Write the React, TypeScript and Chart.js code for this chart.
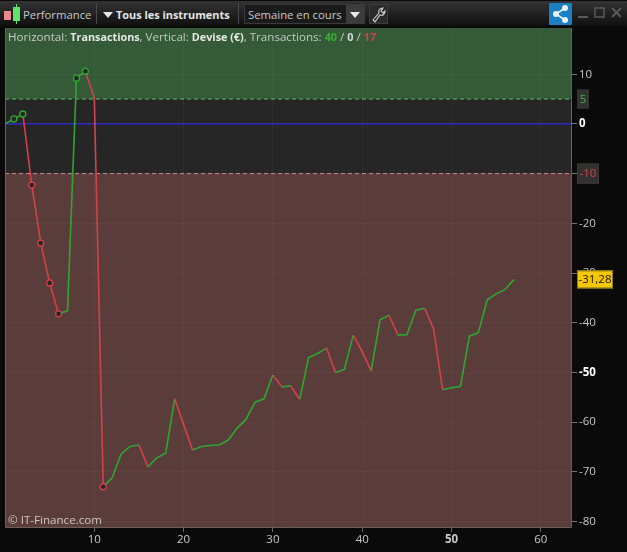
import React, { useEffect, useRef } from "react";
import { Chart, registerables } from "chart.js";

Chart.register(...registerables);

const trades = [
  0, 1, 2, 3, 4, 5, 6, 7, 8, 9, 10, 11, 12, 13, 14, 15, 16, 17, 18, 19, 20, 21, 22, 23, 24, 25, 26, 27, 28,
  29, 30, 31, 32, 33, 34, 35, 36, 37, 38, 39, 40, 41, 42, 43, 44, 45, 46, 47, 48, 49, 50, 51, 52, 53, 54, 55, 56, 57,
];
const equity = [
  0, 1, 2, -12.3, -24, -32, -38.2, -37.6, 9.2, 10.6, 5.2, -73, -71.2, -66.4, -64.9, -64.6, -69, -67.2, -66.2, -55.3,
  -60.5, -65.6, -64.9, -64.7, -64.6, -63.6, -61.2, -59.4, -56, -55.3, -50.5, -52.9, -52.7, -55.4, -47, -46.2, -45.1,
  -50, -49.4, -42.5, -45.8, -49.7, -39.4, -38.5, -42.5, -42.4, -37.5, -37.1, -41.3, -53.5, -53.1, -52.8, -42.7, -42,
  -35.4, -34.2, -33.3, -31.28,
];
const markedTrades = [1, 2, 3, 4, 5, 6, 8, 9, 11];
const xTicks = [10, 20, 30, 40, 50, 60];
const yTicks = [10, 0, -10, -20, -30, -40, -50, -60, -70, -80];
const boldX = [50];
const boldY = [0, -50];
const upperLimit = 5;
const lowerLimit = -10;
const lastValue = -31.28;
const lastLabel = "-31,28";

const GREEN = "#2fa52f";
const RED = "#d5404a";
const FONT = '"Open Sans", sans-serif';
const X_MIN = 0.0;
const X_MAX = 63.49;
const Y_MIN = -81.1;
const Y_MAX = 19.3;

const boxesPlugin = {
  id: "boxes",
  beforeDraw(chart: any) {
    const { ctx, chartArea: a } = chart;
    ctx.save();
    ctx.fillStyle = "#262626";
    ctx.fillRect(a.left, a.top, a.right - a.left, a.bottom - a.top);
    ctx.restore();
  },
  afterDraw(chart: any) {
    const { ctx, chartArea: a } = chart;
    const y = chart.scales.y;
    const box = (v: number, text: string, w: number, h: number, bg: string, fg: string, border: string) => {
      const cy = y.getPixelForValue(v);
      const x = a.right + 5;
      ctx.fillStyle = bg;
      ctx.fillRect(x, cy - h / 2, w, h);
      ctx.strokeStyle = border;
      ctx.strokeRect(x + 0.5, cy - h / 2 + 0.5, w - 1, h - 1);
      ctx.fillStyle = fg;
      ctx.font = `11.5px ${FONT}`;
      ctx.textAlign = "center";
      ctx.textBaseline = "middle";
      ctx.fillText(text, x + w / 2, cy + 0.5);
    };
    ctx.save();
    ctx.lineWidth = 1;
    ctx.beginPath();
    ctx.moveTo(a.left + 0.5, a.top);
    ctx.lineTo(a.left + 0.5, a.bottom + 0.5);
    ctx.lineTo(a.right - 0.5, a.bottom + 0.5);
    ctx.moveTo(a.right - 0.5, a.top);
    ctx.lineTo(a.right - 0.5, a.bottom);
    ctx.strokeStyle = "#6b5f5a";
    ctx.stroke();
    box(upperLimit, String(upperLimit), 12, 19, "#333333", "#38b838", "#333333");
    box(lowerLimit, String(lowerLimit), 22, 20, "#333030", "#d8484f", "#3c3a3a");
    box(lastValue, lastLabel, 36, 18, "#f5c800", "#1a1400", "#8a7a20");
    ctx.restore();
  },
};

const span = [X_MIN, X_MAX];

const Triangle = ({ x, y }: { x: number; y: number }) => (
  <div
    style={{
      position: "absolute",
      left: x,
      top: y,
      width: 0,
      height: 0,
      borderLeft: "5px solid transparent",
      borderRight: "5px solid transparent",
      borderTop: "6px solid #e8e8e8",
    }}
  />
);

const Label = ({ x, y, bold, children }: { x: number; y: number; bold?: boolean; children: React.ReactNode }) => (
  <div
    style={{
      position: "absolute",
      left: x,
      top: y,
      font: `${bold ? 700 : 400} ${bold ? 10.9 : 11.3}px ${FONT}`,
      lineHeight: "16px",
      color: bold ? "#e4e4e4" : "#c8c8c8",
      whiteSpace: "nowrap",
    }}
  >
    {children}
  </div>
);

const legendBold = { fontSize: 10.8 };

export default function App() {
  const ref = useRef<HTMLCanvasElement>(null);

  useEffect(() => {
    document.body.style.margin = "0";
    document.body.style.background = "#0a0a0a";
    const chart = new Chart(ref.current as HTMLCanvasElement, {
      type: "line",
      plugins: [boxesPlugin],
      data: {
        datasets: [
          {
            data: span.map((x) => ({ x, y: upperLimit })),
            borderColor: "#5fb85f",
            borderWidth: 1,
            borderDash: [4, 3],
            backgroundColor: "#355a38",
            fill: "end",
            pointRadius: 0,
            order: 5,
          },
          {
            data: span.map((x) => ({ x, y: lowerLimit })),
            borderColor: "#d98a8a",
            borderWidth: 1,
            borderDash: [4, 3],
            backgroundColor: "#5a3c3a",
            fill: "start",
            pointRadius: 0,
            order: 4,
          },
          {
            data: span.map((x) => ({ x, y: 0 })),
            borderColor: "#2d24e6",
            borderWidth: 1.4,
            pointRadius: 0,
            order: 3,
          },
          {
            data: trades.map((x, i) => ({ x, y: equity[i] })),
            borderWidth: 1.6,
            tension: 0,
            order: 1,
            segment: {
              borderColor: (c: any) => (c.p1.parsed.y >= c.p0.parsed.y ? GREEN : RED),
            },
            pointRadius: (c: any) => (markedTrades.includes(c.raw?.x) ? 3 : 0),
            pointBorderWidth: 1.3,
            pointBackgroundColor: "#262626",
            pointBorderColor: (c: any) => {
              const i = c.dataIndex;
              return i > 0 && equity[i] < equity[i - 1] ? RED : GREEN;
            },
          },
        ],
      },
      options: {
        animation: false,
        responsive: false,
        devicePixelRatio: 1,
        layout: { padding: { left: 5, top: 28, right: 0, bottom: 0 } },
        plugins: { legend: { display: false }, tooltip: { enabled: false } },
        scales: {
          x: {
            type: "linear",
            min: X_MIN,
            max: X_MAX,
            afterBuildTicks: (s: any) => {
              s.ticks = xTicks.map((value) => ({ value }));
            },
            afterFit: (s: any) => {
              s.height = 25;
            },
            grid: { color: "rgba(255,255,255,0.035)", tickColor: "#666", tickLength: 5, z: 1 },
            border: { display: false },
            ticks: {
              color: "#c8c8c8",
              padding: 1,
              maxRotation: 0,
              autoSkip: false,
              font: (c: any) => ({
                family: FONT,
                size: 11.5,
                weight: boldX.includes(c.tick?.value) ? "bold" : "normal",
              }),
              callback: (v: any) => String(v),
            },
          },
          y: {
            position: "right",
            min: Y_MIN,
            max: Y_MAX,
            afterBuildTicks: (s: any) => {
              s.ticks = yTicks.map((value) => ({ value }));
            },
            afterFit: (s: any) => {
              s.width = 55;
            },
            grid: { color: "rgba(255,255,255,0.035)", tickColor: "#777", tickLength: 5, z: 1 },
            border: { display: false },
            ticks: {
              color: (c: any) => (boldY.includes(c.tick?.value) ? "#ffffff" : "#c8c8c8"),
              padding: 2,
              autoSkip: false,
              font: (c: any) => ({
                family: FONT,
                size: 11.5,
                weight: boldY.includes(c.tick?.value) ? "bold" : "normal",
              }),
              callback: (v: any) => String(v),
            },
          },
        },
      },
    } as any);
    return () => chart.destroy();
  }, []);

  return (
    <div style={{ position: "relative", width: 627, height: 552, overflow: "hidden", background: "#0a0a0a" }}>
      <canvas ref={ref} width={627} height={552} style={{ position: "absolute", left: 0, top: 0, display: "block" }} />
      <div
        style={{
          position: "absolute",
          left: 0,
          top: 1,
          width: 627,
          height: 25,
          background: "linear-gradient(#333333, #101010)",
        }}
      />
      <div style={{ position: "absolute", left: 4, top: 11, width: 7, height: 9, background: "#e88a8a" }} />
      <div style={{ position: "absolute", left: 16, top: 4, width: 1, height: 20, background: "#5fe36a" }} />
      <div style={{ position: "absolute", left: 13, top: 7, width: 7, height: 14, background: "#5fe36a" }} />
      <Label x={23} y={7}>Performance</Label>
      <div style={{ position: "absolute", left: 96, top: 3, width: 1, height: 21, background: "#4a4a4a" }} />
      <Triangle x={103} y={12} />
      <Label x={116} y={7} bold>Tous les instruments</Label>
      <div style={{ position: "absolute", left: 238, top: 3, width: 1, height: 21, background: "#4a4a4a" }} />
      <div
        style={{
          position: "absolute",
          left: 244,
          top: 4,
          width: 121,
          height: 20,
          border: "1px solid #3a3a3a",
          boxSizing: "border-box",
          background: "#1a1a1a",
        }}
      />
      <Label x={248} y={7}>Semaine en cours</Label>
      <div style={{ position: "absolute", left: 346, top: 5, width: 18, height: 18, background: "#3c3c3c" }} />
      <Triangle x={350} y={12} />
      <div
        style={{
          position: "absolute",
          left: 369,
          top: 4,
          width: 19,
          height: 20,
          background: "#2a2a2a",
          border: "1px solid #3c3c3c",
          boxSizing: "border-box",
        }}
      />
      <svg style={{ position: "absolute", left: 370, top: 5 }} width="17" height="18" viewBox="0 0 17 18">
        <path
          d="M3 15 L9 8 C8 5 10 3 13 3 L11 6 L13 8 L15 6 C15 9 13 11 10 10 L5 17 Z"
          fill="none"
          stroke="#d8d8d8"
          strokeWidth="1.1"
        />
      </svg>
      <svg style={{ position: "absolute", left: 549, top: 3 }} width="23" height="22" viewBox="0 0 23 22">
        <rect width="23" height="22" rx="1" fill="#1b7fc4" />
        <path d="M16 5 L7 11 L16 17" stroke="#e8f2f8" strokeWidth="1.6" fill="none" />
        <circle cx="16" cy="5" r="3" fill="#e8f2f8" />
        <circle cx="7" cy="11" r="3" fill="#e8f2f8" />
        <circle cx="16" cy="17" r="3" fill="#e8f2f8" />
      </svg>
      <svg style={{ position: "absolute", left: 576, top: 5 }} width="48" height="16" viewBox="0 0 48 16">
        <path d="M2 12 H12" stroke="#5a5a5a" strokeWidth="2" />
        <rect x="19" y="3" width="9" height="9" fill="none" stroke="#5a5a5a" strokeWidth="1.5" />
        <path d="M36 3 L45 12 M45 3 L36 12" stroke="#5a5a5a" strokeWidth="1.8" />
      </svg>
      <div
        style={{
          position: "absolute",
          left: 8,
          top: 29,
          font: `11.6px ${FONT}`,
          lineHeight: "16px",
          color: "#c4c9c4",
          whiteSpace: "nowrap",
        }}
      >
        Horizontal: <b style={{ ...legendBold, color: "#e4e8e4" }}>Transactions</b>, Vertical:{" "}
        <b style={{ ...legendBold, color: "#e4e8e4" }}>Devise (€)</b>, Transactions:{" "}
        <b style={{ ...legendBold, color: "#33b033" }}>40</b> / <b style={{ ...legendBold, color: "#d8dcd8" }}>0</b> /{" "}
        <b style={{ ...legendBold, color: "#d8404a" }}>17</b>
      </div>
      <div
        style={{
          position: "absolute",
          left: 8,
          top: 512,
          font: `11.6px ${FONT}`,
          lineHeight: "16px",
          color: "#cfc6c2",
          whiteSpace: "nowrap",
        }}
      >
        © IT-Finance.com
      </div>
    </div>
  );
}
